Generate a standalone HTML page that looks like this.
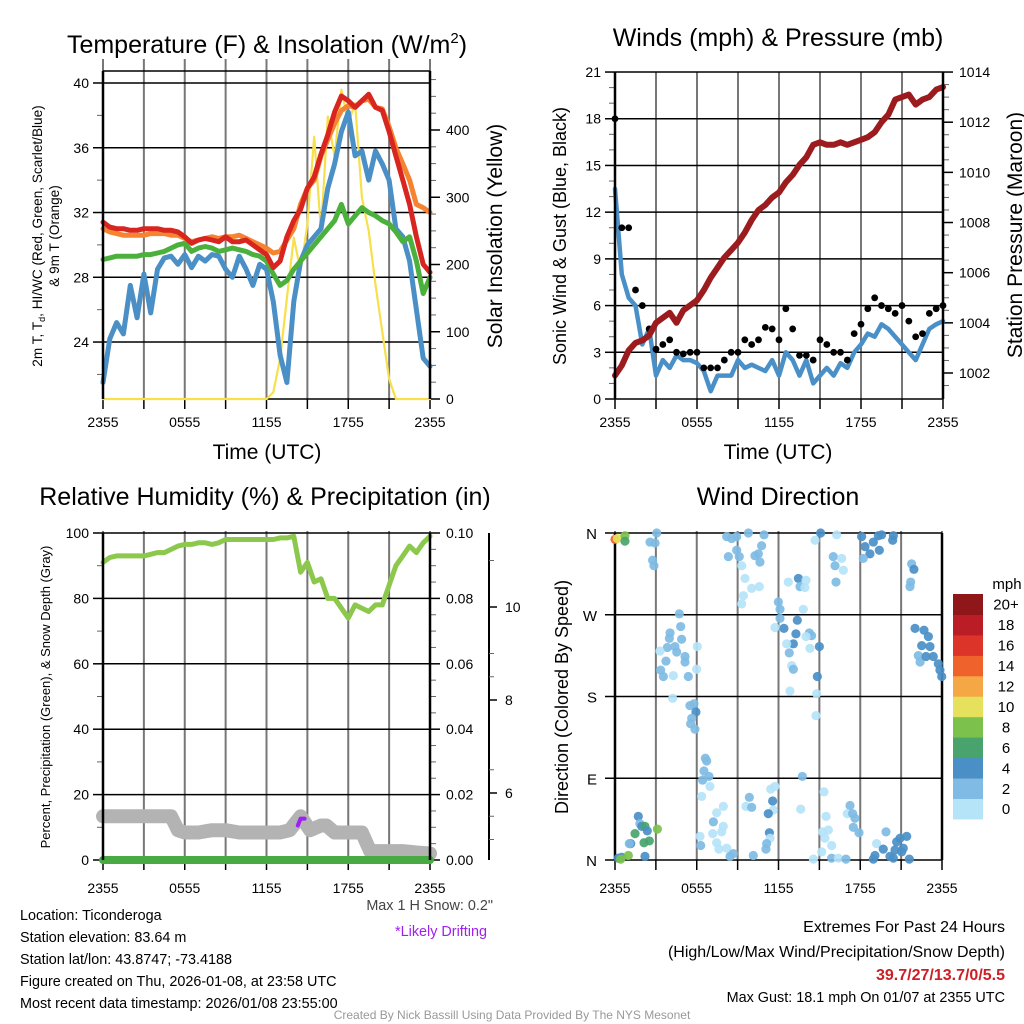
<!DOCTYPE html>
<html><head><meta charset="utf-8"><style>
html,body{margin:0;padding:0;background:#fff}
svg{display:block;font-family:"Liberation Sans",sans-serif}
</style></head><body>
<svg id="chart" width="1024" height="1024" viewBox="0 0 1024 1024" xmlns="http://www.w3.org/2000/svg">
<rect x="0" y="0" width="1024" height="1024" fill="#fff"/>
<text x="267" y="53" font-size="25" text-anchor="middle">Temperature (F) &amp; Insolation (W/m<tspan font-size="15" dy="-10">2</tspan><tspan dy="10">)</tspan></text>
<text x="778" y="46" font-size="25" text-anchor="middle">Winds (mph) &amp; Pressure (mb)</text>
<text x="265" y="505" font-size="25" text-anchor="middle">Relative Humidity (%) &amp; Precipitation (in)</text>
<text x="778" y="505" font-size="25" text-anchor="middle">Wind Direction</text>

<text transform="translate(42,236) rotate(-90)" font-size="13.6" text-anchor="middle">2m T, T<tspan font-size="9" dy="3">d</tspan><tspan dy="-3">, HI/WC (Red, Green, Scarlet/Blue)</tspan></text>
<text transform="translate(59,236) rotate(-90)" font-size="13.6" text-anchor="middle">&amp; 9m T (Orange)</text>
<text transform="translate(502,236) rotate(-90)" font-size="21" text-anchor="middle">Solar Insolation (Yellow)</text>
<text x="267" y="459" font-size="21" text-anchor="middle">Time (UTC)</text>
<text transform="translate(566,236) rotate(-90)" font-size="18" text-anchor="middle">Sonic Wind &amp; Gust (Blue, Black)</text>
<text transform="translate(1022,235) rotate(-90)" font-size="21" text-anchor="middle">Station Pressure (Maroon)</text>
<text x="778" y="459" font-size="21" text-anchor="middle">Time (UTC)</text>
<text transform="translate(50,697) rotate(-90)" font-size="13" text-anchor="middle">Percent, Precipitation (Green), &amp; Snow Depth (Gray)</text>
<text transform="translate(568,697) rotate(-90)" font-size="18" text-anchor="middle">Direction (Colored By Speed)</text>

<g font-size="14.4">
<text x="20" y="920">Location: Ticonderoga</text>
<text x="20" y="942">Station elevation: 83.64 m</text>
<text x="20" y="964">Station lat/lon: 43.8747; -73.4188</text>
<text x="20" y="986">Figure created on Thu, 2026-01-08, at 23:58 UTC</text>
<text x="20" y="1008">Most recent data timestamp: 2026/01/08 23:55:00</text>
<text x="493" y="910" text-anchor="end" fill="#444">Max 1 H Snow: 0.2"</text>
<text x="487" y="936" text-anchor="end" fill="#a020f0">*Likely Drifting</text>
<text x="1005" y="932" text-anchor="end" font-size="16">Extremes For Past 24 Hours</text>
<text x="1005" y="957" text-anchor="end" font-size="16">(High/Low/Max Wind/Precipitation/Snow Depth)</text>
<text x="1005" y="980" text-anchor="end" font-size="16" font-weight="bold" fill="#cc2026">39.7/27/13.7/0/5.5</text>
<text x="1005" y="1002" text-anchor="end">Max Gust: 18.1 mph On 01/07 at 2355 UTC</text>
<text x="512" y="1019" text-anchor="middle" font-size="12" fill="#999">Created By Nick Bassill Using Data Provided By The NYS Mesonet</text>
</g>
</svg>
<script>
// ---- data (half-hourly, t = 0..24 h) ----
const hours = [0,0.5,1,1.5,2,2.5,3,3.5,4,4.5,5,5.5,6,6.5,7,7.5,8,8.5,9,9.5,10,10.5,11,11.5,12,12.5,13,13.5,14,14.5,15,15.5,16,16.5,17,17.5,18,18.5,19,19.5,20,20.5,21,21.5,22,22.5,23,23.5,24];
const xTickLabels = ["2355","0555","1155","1755","2355"];
const tempRed = [31.4,31.1,31.0,31.0,30.9,30.9,31.0,31.0,31.0,30.9,30.9,30.8,30.5,30.1,30.3,30.4,30.3,30.2,30.5,30.2,30.2,30.3,30.0,29.7,29.4,28.6,29.0,30.5,31.5,32.2,33.5,34.2,35.6,36.8,38.2,39.2,38.9,38.5,38.9,39.3,38.5,38.3,37.0,35.5,34.0,32.5,30.5,28.8,28.3];
const tempOrange = [31.0,30.8,30.7,30.6,30.6,30.6,30.6,30.7,30.7,30.7,30.6,30.6,30.4,30.2,30.3,30.4,30.5,30.4,30.5,30.5,30.6,30.4,30.2,30.0,29.8,29.5,29.6,30.3,31.0,32.5,33.5,34.0,35.5,36.5,37.5,38.3,38.6,38.5,38.9,39.0,38.5,38.4,37.3,36.0,35.0,34.0,32.5,32.3,32.0];
const dewGreen = [29.1,29.2,29.3,29.3,29.3,29.3,29.4,29.4,29.5,29.6,29.8,30.0,30.1,29.6,29.8,29.9,29.8,29.6,29.7,29.8,29.7,29.6,29.4,29.3,29.0,28.2,27.5,27.8,28.5,29.0,29.5,30.0,30.5,31.0,31.5,32.5,31.3,31.8,32.3,32.0,31.8,31.5,31.3,30.8,30.2,30.5,29.0,27.0,28.0];
const windChillBlue = [21.5,24.2,25.2,24.5,27.5,25.5,28.2,25.8,28.5,29.2,29.3,28.8,29.4,28.6,29.3,29.0,29.4,29.3,28.5,28.0,29.3,28.5,27.5,28.8,28.5,26.5,23.2,21.5,26.5,29.0,30.0,30.5,31.0,33.5,35.0,37.0,38.2,35.5,35.8,34.0,35.8,35.0,34.0,31.0,30.5,29.0,26.0,23.0,22.5];
const solar = [0,0,0,0,0,0,0,0,0,0,0,0,0,0,0,0,0,0,0,0,0,0,0,0,0,10,60,150,240,190,260,390,250,420,360,460,410,440,300,250,170,100,30,0,0,0,0,0,0];
const tempTicks = [24,28,32,36,40];
const solarTicks = [0,100,200,300,400];
const windSpeed = [13.5,8,6.5,6,3.5,4.5,1.5,2.5,2,2.8,2.5,2.5,2.3,1.8,0.5,1.5,1.5,1.5,2.5,2,2.2,2,1.8,2.5,1.5,3,2.5,1.5,2.5,1,1.5,2,1.5,2.3,2,3,3.5,4.2,4,4.8,4.5,4,3.5,3,2.5,3.5,4.5,4.8,5];
const windGust = [18,11,11,7,6,4.5,3.2,3.5,3.8,3,2.9,3,3,2,2,2,2.5,3,3,3.8,3.5,3.8,4.6,4.5,3.8,5.8,4.5,2.8,2.8,2.5,3.8,3.5,3,3,2.5,4.2,4.8,5.8,6.5,6,5.8,5.5,6,5,4,4.2,5.5,5.8,6];
const pressure = [1001.9,1002.3,1002.9,1003.2,1003.3,1003.5,1004.0,1004.2,1004.4,1004.0,1004.5,1004.7,1004.9,1005.3,1005.8,1006.2,1006.6,1006.9,1007.2,1007.6,1008.1,1008.5,1008.7,1009.0,1009.2,1009.6,1009.9,1010.3,1010.6,1011.1,1011.2,1011.1,1011.1,1011.2,1011.1,1011.2,1011.3,1011.4,1011.6,1012.0,1012.3,1012.9,1013.0,1013.1,1012.7,1012.9,1013.0,1013.3,1013.4];
const windTicks = [0,3,6,9,12,15,18,21];
const pressureTicks = [1002,1004,1006,1008,1010,1012,1014];
const relHum = [91,92.5,93,93,93,93,93,93.5,94,94,95,96,96.5,96.5,97,97,96.5,97,98,98,98,98,98,98,98,98,98.5,98.5,99,88,91,85,86,80,80,77,74,78,77,76,78,78,84,90,93,96,94,97,99];
const precip = [0,0,0,0,0,0,0,0,0,0,0,0,0,0,0,0,0,0,0,0,0,0,0,0,0,0,0,0,0,0,0,0,0,0,0,0,0,0,0,0,0,0,0,0,0,0,0,0,0];
const snowHours = [0,1,2,3,4,5,5.5,6,7,8,9,10,11,12,13,13.7,14.5,15.2,16,16.4,17,18,19,19.6,20,21,22,23,24];
const snowDepth = [5.5,5.5,5.5,5.5,5.5,5.5,5.2,5.15,5.15,5.2,5.2,5.15,5.15,5.15,5.15,5.2,5.5,5.2,5.3,5.3,5.15,5.15,5.15,4.75,4.75,4.75,4.75,4.72,4.7];
const driftHours = [14.3,14.5,14.8];
const driftDepth = [5.3,5.45,5.45];
const rhTicks = [0,20,40,60,80,100];
const precipTicks = ["0.00","0.02","0.04","0.06","0.08","0.10"];
const snowTicks = [6,8,10];
const dirHours = [0,0.17,0.73,0.73,3.06,2.57,2.94,2.76,2.86,8.2,8.56,8.93,8.32,8.93,9.12,9.3,9.79,9.54,10.03,10.59,9.42,9.3,10.94,10.76,10.52,10.27,10.64,12.72,13.46,13.58,13.94,14.02,11.99,12.11,12.11,12.4,11.74,13.38,13.28,13.09,12.79,12.6,12.97,13.09,12.84,13.82,14.26,14.43,14.02,14.31,15.0,14.85,14.8,14.75,15.09,14.68,16.27,16.02,16.15,16.64,16.76,16.22,18.1,18.35,18.71,18.96,19.33,19.57,19.4,20.43,20.38,18.22,21.77,21.94,21.7,21.65,22.02,22.68,23.0,22.51,23.12,23.36,23.73,23.85,23.98,22.26,22.39,22.83,4.72,4.82,4.04,3.99,3.84,4.4,4.89,4.53,5.14,5.14,3.3,3.74,3.35,3.55,4.28,5.38,6.04,5.99,4.23,5.5,5.8,5.94,5.63,5.55,5.87,6.63,6.73,6.53,6.9,6.43,6.97,6.36,7.46,7.22,7.95,7.95,7.83,7.17,6.24,6.29,7.46,7.63,8.2,8.68,8.44,10.15,9.86,9.61,10.03,11.43,11.74,11.57,11.62,11.25,11.33,11.38,11.08,11.13,13.75,13.63,15.34,15.49,15.24,15.66,15.41,15.9,15.17,14.56,15.9,16.39,16.95,17.25,17.05,17.44,17.61,17.49,17.91,19.89,19.2,19.69,20.67,20.92,21.41,20.55,21.04,21.16,19.08,18.96,20.18,20.43,21.6,1.71,1.83,1.96,1.47,2.2,2.37,1.15,1.05,2.13,2.52,2.2,0.24,0.49,0.98,3.11,0.42];
const dirDegrees = [353,354,357,351,360,350,349,330,324,356,354,356,334,341,334,324,360,310,299,301,291,282,358,346,337,335,328,306,310,301,300,308,284,276,266,255,256,264,249,238,228,238,214,210,186,276,250,247,246,233,235,202,183,159,360,352,358,334,324,332,319,306,356,345,337,350,357,358,341,357,352,332,326,320,306,301,255,253,246,236,235,224,216,209,202,225,218,224,271,257,250,244,234,235,243,229,224,218,230,219,209,202,203,202,235,210,178,170,172,163,156,150,144,112,109,98,92,88,81,70,52,42,59,37,31,29,26,16,19,12,13,7,4,5,69,59,58,78,81,65,55,51,30,24,12,18,92,56,75,48,31,33,24,16,9,1,2,2,1,60,51,51,46,36,30,31,18,12,20,24,26,11,9,13,5,1,4,2,1,48,40,37,29,37,32,18,18,19,21,4,2,3,5,34,1];
const dirSpeeds = [14.5,10.5,8.5,6.5,3,3,3,3,3,3,3,3,3,3,3,1,3,1,1,1,1,1,3,3,3,3,3,1,4.5,3,1,1,3,3,3,4.5,1,4.5,4.5,4.5,3,1,1,3,1,1,3,3,1,1,4.5,4.5,1,1,4.5,1,1,3,3,1,1,3,4.5,4.5,4.5,4.5,4.5,4.5,4.5,4.5,4.5,3,3,4.5,3,3,4.5,4.5,4.5,4.5,4.5,4.5,4.5,4.5,4.5,3,3,4.5,3,3,3,3,3,3,3,3,3,3,1,3,3,3,1,3,1,1,1,3,3,4.5,3,3,3,3,3,3,3,3,1,1,1,3,1,1,1,1,1,3,1,1,1,3,3,3,3,1,3,1,1,4.5,1,4.5,4.5,1,3,3,3,1,1,1,1,1,1,1,1,1,3,1,3,3,1,3,3,3,3,3,1,4.5,4.5,4.5,4.5,4.5,4.5,4.5,4.5,4.5,4.5,4.5,4.5,4.5,3,4.5,6.5,6.5,4.5,4.5,3,6.5,6.5,4.5,4.5,4.5,8.5,8.5,8.5,1,8.5];
const dirTickLabels = ["N","E","S","W","N"];
const speedBins = ["0","2","4","6","8","10","12","14","16","18","20+"];
const speedColors = ["#b5e3f8","#7fbbe4","#4a8fc6","#48a46c","#7bc14b","#e6e15c","#f6a745","#f0622b","#dc3429","#bb1d27","#8f1619"];

// ---- helpers ----
const NS='http://www.w3.org/2000/svg';
const svg=document.getElementById('chart');
function mk(tag,attrs,parent){const e=document.createElementNS(NS,tag);for(const k in attrs)e.setAttribute(k,attrs[k]);(parent||svg).appendChild(e);return e;}
function grp(name){const g=mk('g',{});return g;}
function line(g,x1,y1,x2,y2,st,w){return mk('line',{x1:x1,y1:y1,x2:x2,y2:y2,stroke:st,'stroke-width':w},g);}
function txt(g,x,y,s,size,anchor){const t=mk('text',{x:x,y:y,'font-size':size,'text-anchor':anchor||'middle'},g);t.textContent=s;return t;}
function poly(g,xs,ys,color,w,name){const pts=xs.map((x,i)=>x.toFixed(1)+','+ys[i].toFixed(1)).join(' ');const p=mk('polyline',{points:pts,fill:'none',stroke:color,'stroke-width':w,'stroke-linejoin':'round','stroke-linecap':'round'},g);return p;}

function timeGrid(g,x0,x1,yTop,yBot,labelY){
  const sx=t=>x0+t/24*(x1-x0);
  for(let k=0;k<=8;k++){const x=sx(k*3);line(g,x,yTop-12,x,yBot,'#777',2);line(g,x,yBot,x,yBot+10,'#000',1.5);}
  xTickLabels.forEach((s,i)=>{const tl=txt(g,sx(i*6),labelY,s,14);});
  return sx;
}

// ===== Panel A: temperature =====
(function(){
  const g=grp('temperature-panel');
  const x0=103,x1=430,yT=71,yB=399;
  const yTemp=v=>83+(40-v)*16.19;
  const ySol=v=>399-v*0.6725;
  const sx=timeGrid(g,x0,x1,yT,yB,427);
  tempTicks.forEach(v=>{const y=yTemp(v);line(g,x0,y,x1,y,'#000',1.5);line(g,x0-10,y,x0,y,'#000',1.5);const t=txt(g,x0-14,y+5,String(v),14,'end');});
  for(let v=22;v<=40;v+=2){if(tempTicks.indexOf(v)<0){const y=yTemp(v);line(g,x0-6,y,x0,y,'#666',1);}}
  solarTicks.forEach(v=>{const y=ySol(v);line(g,x1,y,x1+10,y,'#000',1.5);const t=txt(g,x1+16,y+5,String(v),14,'start');});
  for(let v=25;v<480;v+=25){if(v%100){const y=ySol(v);line(g,x1,y,x1+6,y,'#666',1);}}
  line(g,x0,yT,x1,yT,'#000',1.5);line(g,x0,yB,x1,yB,'#000',1.5);
  const xs=hours.map(sx);
  poly(g,xs,solar.map(ySol),'#f7e04b',2.2,'solar-line');
  poly(g,xs,windChillBlue.map(yTemp),'#4a8fc6',5,'windchill-line');
  poly(g,xs,dewGreen.map(yTemp),'#4cb03c',5,'dewpoint-line');
  poly(g,xs,tempOrange.map(yTemp),'#f5832f',5,'temp-9m-line');
  poly(g,xs,tempRed.map(yTemp),'#d9251f',5,'temp-2m-line');
  line(g,x0,yT,x0,yB,'#000',2.5);line(g,x1,yT,x1,yB,'#000',2.5);
})();

// ===== Panel B: winds & pressure =====
(function(){
  const g=grp('wind-panel');
  const x0=615,x1=943,yT=72,yB=399;
  const yW=v=>399-v*15.57;
  const yP=v=>373-(v-1002)*25.08;
  const sx=timeGrid(g,x0,x1,yT+12,yB,427);
  windTicks.forEach(v=>{const y=yW(v);line(g,x0,y,x1,y,'#000',1.5);line(g,x0-10,y,x0,y,'#000',1.5);const t=txt(g,x0-14,y+5,String(v),14,'end');});
  for(let v=1;v<21;v++){if(v%3){line(g,x0-6,yW(v),x0,yW(v),'#666',1);}}
  pressureTicks.forEach(v=>{const y=yP(v);line(g,x1,y,x1+10,y,'#000',1.5);const t=txt(g,x1+16,y+5,String(v),14,'start');});
  for(let v=1001.5;v<1014;v+=0.5){if(v%2){line(g,x1,yP(v),x1+6,yP(v),'#666',1);}}
  const xs=hours.map(sx);
  poly(g,xs,windSpeed.map(yW),'#4a90c8',4.5,'wind-speed-line');
  windGust.forEach((v,i)=>{const c=mk('circle',{cx:sx(hours[i]),cy:yW(v),r:3.4,fill:'#000'},g);});
  poly(g,xs,pressure.map(yP),'#9b1b1e',6,'pressure-line');
  line(g,x0,yT,x0,yB,'#000',2.5);line(g,x1,yT,x1,yB,'#000',2.5);
})();

// ===== Panel C: RH, precip, snow =====
(function(){
  const g=grp('humidity-panel');
  const x0=103,x1=430,yT=533,yB=860;
  const yRH=v=>860-v*3.27;
  const yPr=v=>860-v/0.1*327;
  const ySn=v=>700-(v-8)*46.5;
  const sx=timeGrid(g,x0,x1,yT+10,yB,893);
  rhTicks.forEach((v,i)=>{const y=yRH(v);line(g,x0,y,x1,y,'#000',1.5);line(g,x0-10,y,x0,y,'#000',1.5);const t=txt(g,x0-14,y+5,String(v),14,'end');const p=txt(g,x1+16,y+5,precipTicks[i],14,'start');line(g,x1,y,x1+10,y,'#000',1.5);});
  for(let v=10;v<100;v+=20){line(g,x0-6,yRH(v),x0,yRH(v),'#666',1);}
  for(let v=5;v<100;v+=5){if(v%20){line(g,x1,yRH(v),x1+6,yRH(v),'#666',1);}}
  line(g,489,yT,489,yB,'#000',2);
  snowTicks.forEach(v=>{const y=ySn(v);line(g,489,y,497,y,'#000',1.5);const t=txt(g,505,y+5,String(v),14,'start');});
  [5,5.5,6.5,8.5,9,11].forEach(v=>line(g,489,ySn(v),494,ySn(v),'#666',1));
  const xs=hours.map(sx);
  poly(g,snowHours.map(sx),snowDepth.map(ySn),'#b3b3b3',14,'snow-depth-line');
  poly(g,driftHours.map(sx),driftDepth.map(ySn),'#a020f0',4,'drifting-segment');
  poly(g,xs,precip.map(yPr),'#49a943',8,'precip-line');
  poly(g,xs,relHum.map(yRH),'#8cc84c',5,'rh-line');
  line(g,x0,yT,x0,yB,'#000',2.5);line(g,x1,yT,x1,yB,'#000',2.5);
})();

// ===== Panel D: wind direction =====
(function(){
  const g=grp('direction-panel');
  const x0=615,x1=942,yT=533,yB=860;
  const yD=d=>860-d/360*327;
  const sx=timeGrid(g,x0,x1,yT+10,yB,893);
  dirTickLabels.forEach((s,i)=>{const y=yD(i*90);line(g,x0-10,y,x1,y,'#000',1.5);const t=txt(g,x0-18,y+6,s,15,'end');});
  line(g,x0,yT,x0,yB,'#000',2.5);line(g,x1,yT,x1,yB,'#000',2.5);
  dirDegrees.forEach((d,i)=>{const bin=Math.min(10,Math.floor(dirSpeeds[i]/2));const c=mk('circle',{cx:sx(dirHours[i]),cy:yD(d),r:4.6,fill:speedColors[bin],opacity:0.92},g);});
  const lg=grp('speed-colorbar');
  const mt=txt(lg,1007,589,'mph',15);
  const bh=20.45;
  speedBins.forEach((s,i)=>{const k=speedBins.length-1-i;const y=594+k*bh;const r=mk('rect',{x:953,y:y,width:30,height:bh+0.5,fill:speedColors[i]},lg);const t=txt(lg,1006,y+bh/2+5.5,s,15);});
})();
</script>
</body></html>
